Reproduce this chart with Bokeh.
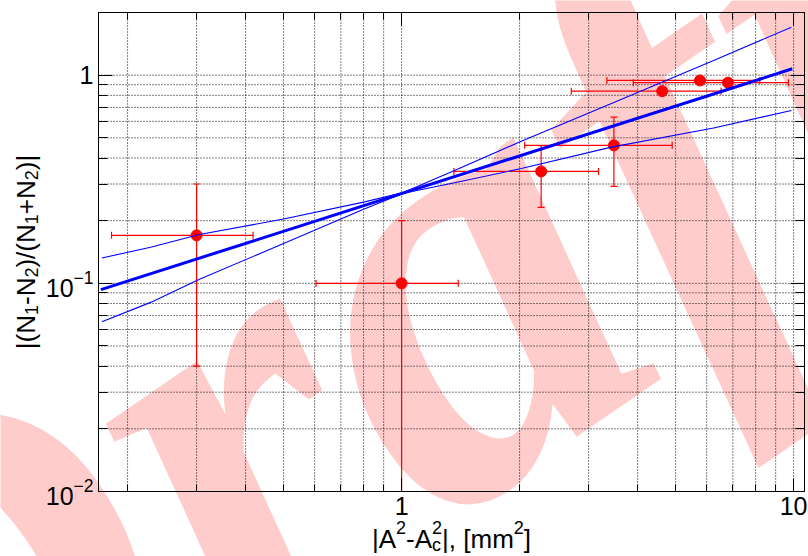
import math
from bokeh.plotting import figure
from bokeh.models import LogAxis, FixedTicker, LogTicker, LogTickFormatter, Label
from bokeh.embed import file_html
from bokeh.resources import INLINE

# ---------------- data ----------------
x_vals = [0.30, 1.00, 2.27, 3.48, 4.62, 5.77, 6.80]
y_vals = [0.170, 0.100, 0.345, 0.460, 0.838, 0.943, 0.920]
x_errs = [0.118, 0.395, 0.91, 1.42, 1.91, 2.43, 2.90]
y_errs = [0.130, 0.100, 0.1135, 0.168, 0.0, 0.0, 0.0]

fit_x = [0.171, 9.92]
fit_y = [0.0933, 1.073]

band_x = [0.172, 0.229, 0.305, 0.50, 0.80, 1.01, 1.365, 2.02, 3.43, 6.25, 9.87]
band_up_y = [0.1324, 0.149, 0.1715, 0.2036, 0.2455, 0.273, 0.348, 0.4816, 0.731, 1.177, 1.70]
band_lo_y = [0.0654, 0.081, 0.1045, 0.1553, 0.227, 0.271, 0.304, 0.356, 0.451, 0.5577, 0.676]

x_major = [1, 10]
x_minor = [0.2, 0.3, 0.4, 0.5, 0.6, 0.7, 0.8, 0.9, 2, 3, 4, 5, 6, 7, 8, 9]
y_major = [0.01, 0.1, 1]
y_minor = [0.02, 0.03, 0.04, 0.05, 0.06, 0.07, 0.08, 0.09,
           0.2, 0.3, 0.4, 0.5, 0.6, 0.7, 0.8, 0.9, 2]
x_labels = {1: "1", 10: "10"}
y_labels = {1: "1"}

X0, X1 = 0.1686, 10.66     # axis box limits
Y0, Y1 = 0.01, 2.0

# ---------------- layout ----------------
W, H = 808, 556
BL, BR, BT, BB = 98, 804, 12, 491   # axis box in canvas pixels
lX0, lX1, lY0, lY1 = map(math.log10, (X0, X1, Y0, Y1))
bx = (lX1 - lX0) / (BR - BL)
by = (lY1 - lY0) / (BB - BT)
xr = (10 ** (lX0 - BL * bx), 10 ** (lX0 + (W - BL) * bx))
yr = (10 ** (lY0 - (H - BB) * by), 10 ** (lY1 + BT * by))


def to_data(px, py):
    return 10 ** (lX0 + (px - BL) * bx), 10 ** (lY0 + (BB - py) * by)


p = figure(width=W, height=H, x_axis_type="log", y_axis_type="log",
           x_range=xr, y_range=yr, title=None,
           output_backend="svg", toolbar_location=None,
           min_border=0, min_border_left=0, min_border_right=0,
           min_border_top=0, min_border_bottom=0)
p.background_fill_color = "white"
p.border_fill_color = "white"
p.outline_line_color = None
p.grid.visible = False

xt = FixedTicker(ticks=x_major, minor_ticks=x_minor)
yt = FixedTicker(ticks=y_major, minor_ticks=y_minor)
FONT = "Liberation Sans"

bottom_axis = p.xaxis[0]
left_axis = p.yaxis[0]
bottom_axis.update(ticker=xt, fixed_location=Y0, bounds=(X0, X1),
                   formatter=LogTickFormatter(ticker=LogTicker(), min_exponent=0),
                   major_label_overrides=x_labels)
left_axis.update(ticker=yt, fixed_location=X0, bounds=(Y0, Y1),
                 formatter=LogTickFormatter(ticker=LogTicker(), min_exponent=0),
                 major_label_overrides=y_labels)
top_axis = LogAxis(ticker=xt, fixed_location=Y1, bounds=(X0, X1),
                   formatter=LogTickFormatter(ticker=LogTicker()),
                   major_label_text_font_size="1px", major_label_text_alpha=0)
right_axis = LogAxis(ticker=yt, fixed_location=X1, bounds=(Y0, Y1),
                     formatter=LogTickFormatter(ticker=LogTicker()),
                     major_label_text_font_size="1px", major_label_text_alpha=0)
p.add_layout(top_axis, "above")
p.add_layout(right_axis, "right")

for ax, tin, mtin in ((bottom_axis, 13, 7), (top_axis, 13, 7),
                      (left_axis, 14, 9), (right_axis, 14, 9)):
    ax.major_tick_in = tin
    ax.major_tick_out = 0
    ax.minor_tick_in = mtin
    ax.minor_tick_out = 0
    ax.major_tick_line_color = "black"
    ax.minor_tick_line_color = "black"
    ax.axis_line_color = "black"
for ax in (bottom_axis, left_axis):
    ax.major_label_text_font = FONT
    ax.major_label_text_font_size = "25px"
    ax.major_label_text_color = "black"
    ax.major_label_standoff = 5

# ---------------- watermark (under everything) ----------------
wang = math.degrees(math.atan2(H, W))
wx, wy = to_data(320, 365)
p.add_layout(Label(x=wx, y=wy, text="Draft", angle=wang, angle_units="deg",
                   text_font="Liberation Serif", text_font_style="bold italic",
                   text_font_size="605px", text_color="#ffcccc",
                   text_align="center", text_baseline="middle", level="image"))

# ---------------- grid (dotted, at every tick) ----------------
gx = x_major + x_minor
gy = y_major + y_minor
p.segment(x0=gx, y0=[Y0] * len(gx), x1=gx, y1=[Y1] * len(gx),
          line_color="black", line_width=1, line_dash="1 2")
p.segment(x0=[X0] * len(gy), y0=gy, x1=[X1] * len(gy), y1=gy,
          line_color="black", line_width=1, line_dash="1 2")

# ---------------- error bars & points ----------------
RED = "#ff0000"
BLUE = "#0000ff"
x_lo = [x - e for x, e in zip(x_vals, x_errs)]
x_hi = [x + e for x, e in zip(x_vals, x_errs)]
y_lo = [max(y - e, Y0) for y, e in zip(y_vals, y_errs)]
y_hi = [y + e for y, e in zip(y_vals, y_errs)]

p.segment(x0=x_lo, y0=y_vals, x1=x_hi, y1=y_vals, line_color=RED, line_width=1.2)
p.scatter(x=x_lo + x_hi, y=y_vals + y_vals, marker="dash", size=7, angle=math.pi / 2,
          line_color=RED, line_width=1.2)
ey_idx = [i for i, e in enumerate(y_errs) if e > 0]
p.segment(x0=[x_vals[i] for i in ey_idx], y0=[y_lo[i] for i in ey_idx],
          x1=[x_vals[i] for i in ey_idx], y1=[y_hi[i] for i in ey_idx],
          line_color=RED, line_width=1.2)
cap_x = [x_vals[i] for i in ey_idx] + [x_vals[i] for i in ey_idx if y_vals[i] - y_errs[i] > Y0]
cap_y = [y_hi[i] for i in ey_idx] + [y_lo[i] for i in ey_idx if y_vals[i] - y_errs[i] > Y0]
p.scatter(x=cap_x, y=cap_y, marker="dash", size=7, line_color=RED, line_width=1.2)
p.scatter(x=x_vals, y=y_vals, marker="circle", size=11, fill_color=RED, line_color=RED)

# ---------------- fit with band ----------------
p.line(band_x, band_up_y, line_color=BLUE, line_width=1.1)
p.line(band_x, band_lo_y, line_color=BLUE, line_width=1.1)
p.line(fit_x, fit_y, line_color=BLUE, line_width=3)

# ---------------- axis titles (composed text) ----------------
CW = {'|': 0.260, 'A': 0.667, '2': 0.556, '-': 0.333, 'c': 0.5, ',': 0.278, ' ': 0.278,
      '[': 0.278, 'm': 0.833, ']': 0.278, '(': 0.333, ')': 0.333, 'N': 0.722, '1': 0.556,
      '+': 0.584, '/': 0.278}


def tw(s, size):
    return sum(CW[c] for c in s) * size


F, f = 26, 18
xt_pieces = [("|A", F, 0, True), ("2", f, -11, True), ("-A", F, 0, True),
             ("2", f, -11, False), ("c", f, 6, True), ("|, [mm", F, 0, True),
             ("2", f, -11, True), ("]", F, 0, True)]


def adv_w(t, s):
    return max(tw("c", s), tw("2", s)) if t == "c" else tw(t, s)


total = sum(adv_w(t, s) for t, s, d, a in xt_pieces if a)
xpos = (BL + BR) / 2 - total / 2
base_y = 538
for t, s, d, a in xt_pieces:
    lx, ly = to_data(xpos, base_y + d)
    p.add_layout(Label(x=lx, y=ly, text=t, text_font=FONT, text_font_size=f"{s}px",
                       text_color="black", text_align="left", text_baseline="alphabetic"))
    if a:
        xpos += adv_w(t, s)

yt_pieces = [("|(N", F, 0), ("1", f, 6), ("-N", F, 0), ("2", f, 6), (")/(N", F, 0),
             ("1", f, 6), ("+N", F, 0), ("2", f, 6), (")|", F, 0)]
total = sum(tw(t, s) for t, s, d in yt_pieces)
ypos = (BT + BB) / 2 + total / 2
base_x = 25
for t, s, d in yt_pieces:
    lx, ly = to_data(base_x + d, ypos)
    p.add_layout(Label(x=lx, y=ly, text=t, text_font=FONT, text_font_size=f"{s}px",
                       text_color="black", text_align="left", text_baseline="alphabetic",
                       angle=90, angle_units="deg"))
    ypos -= tw(t, s)

open("out.html", "w").write(file_html(p, INLINE))
